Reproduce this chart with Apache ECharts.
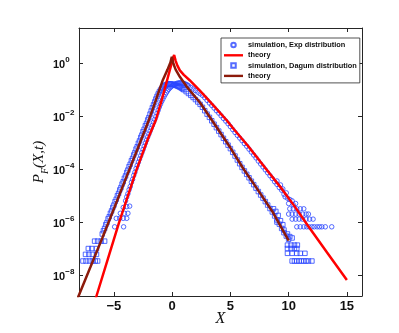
<!DOCTYPE html>
<html>
<head>
<meta charset="utf-8">
<title>P_F(X,t)</title>
<script src="https://cdn.jsdelivr.net/npm/echarts@6/dist/echarts.min.js"></script>
<style>html,body{margin:0;padding:0;background:#fff;}</style>
</head>
<body>
<div id="main" style="width:399px;height:333px;"></div>
<script>
// points are [X, log10 P]
var theoryExp = [[-7.0,-9.5],[-6.5,-8.79],[-5.5,-7.36],[-4.57,-6.03],[-3.07,-4.04],[-2.07,-2.85],[-1.4,-2.15],
  [-0.9,-1.4],[-0.43,-0.64],[-0.1,-0.1],[0.05,0.15],[0.17,0.3],[0.3,0.08],[0.45,-0.1],[0.66,-0.28],[1.0,-0.45],
  [1.5,-0.65],[2.4,-1.05],[3.5,-1.58],[4.7,-2.17],[5.3,-2.5],[6.5,-3.12],[8.1,-4.02],[9.4,-4.74],[10.5,-5.4],
  [11.6,-6.1],[13.3,-7.15],[15,-8.19]];

var theoryDagum = [[-8.3,-9.08],[-8,-8.75],[-7,-7.68],[-6,-6.6],[-5,-5.5],[-4,-4.38],[-3,-3.27],[-2,-2.15],
  [-1.4,-1.4],[-0.8,-0.64],[-0.4,-0.25],[-0.15,0.02],[-0.03,0.23],[0.1,-0.02],[0.3,-0.25],[0.66,-0.52],
  [1.24,-0.89],[2.4,-1.5],[3.4,-2.15],[5,-3.2],[6.1,-3.98],[7.3,-4.75],[8.6,-5.6],[10,-6.7]];

var simExp = [
  [-4.94,-6.18],[-4.17,-6.18],[-4.8,-5.86],[-4.5,-5.86],[-4.2,-5.86],[-3.9,-5.86],[-4.45,-5.67],[-4.1,-5.67],[-3.8,-5.67],
  [-4.2,-5.45],[-3.9,-5.42],[-3.65,-5.4],
  [-4.0,-5.2],[-3.9,-5.05],[-3.8,-4.93],[-3.7,-4.78],[-3.6,-4.66],[-3.5,-4.5],[-3.4,-4.39],[-3.3,-4.24],[-3.2,-4.12],
  [-3.1,-3.98],[-3.0,-3.86],[-2.9,-3.74],[-2.8,-3.62],[-2.7,-3.5],[-2.6,-3.38],[-2.5,-3.26],[-2.4,-3.14],[-2.3,-3.02],
  [-2.2,-2.91],[-2.1,-2.79],[-2.0,-2.68],[-1.9,-2.57],[-1.8,-2.46],[-1.7,-2.35],[-1.6,-2.24],[-1.5,-2.13],[-1.4,-2.02],
  [-1.3,-1.9],[-1.2,-1.78],[-1.1,-1.66],[-1.0,-1.55],[-0.9,-1.45],[-0.8,-1.36],[-0.7,-1.27],[-0.6,-1.19],[-0.5,-1.12],
  [-0.4,-1.05],[-0.3,-0.99],[-0.2,-0.94],[-0.1,-0.9],[0.0,-0.86],[0.1,-0.83],[0.2,-0.81],[0.3,-0.79],[0.4,-0.77],
  [0.5,-0.76],[0.6,-0.75],[0.7,-0.75],[0.8,-0.75],[0.9,-0.76],[1.0,-0.77],[1.1,-0.79],[1.2,-0.81],[1.3,-0.83],
  [1.4,-0.86],[1.6,-0.92],[1.8,-0.98],[2.0,-1.04],[2.2,-1.1],[2.4,-1.16],[2.6,-1.22],[2.8,-1.31],[3.0,-1.41],
  [3.2,-1.51],[3.4,-1.6],[3.6,-1.7],[3.8,-1.8],[4.0,-1.89],[4.2,-1.99],[4.4,-2.09],[4.6,-2.19],[4.8,-2.29],
  [5.0,-2.4],[5.2,-2.51],[5.4,-2.62],[5.6,-2.73],[5.8,-2.83],[6.0,-2.93],[6.2,-3.04],[6.4,-3.14],[6.6,-3.25],
  [6.8,-3.36],[7.0,-3.47],[7.2,-3.58],[7.4,-3.7],[7.6,-3.81],[7.8,-3.92],[8.0,-4.03],[8.2,-4.14],[8.4,-4.25],
  [8.6,-4.36],[8.8,-4.48],[9.0,-4.58],[9.2,-4.7],[9.4,-4.8],
  [9.0,-4.45],[9.3,-4.6],[9.5,-4.75],[9.6,-4.95],[9.8,-4.9],[9.7,-5.05],[9.9,-5.1],[10.1,-5.15],[10.3,-5.2],
  [10.0,-5.3],[10.4,-5.35],[10.6,-5.3],
  [10.1,-5.5],[10.4,-5.5],[10.7,-5.5],[11.0,-5.5],[11.3,-5.5],
  [10.0,-5.7],[10.3,-5.7],[10.6,-5.7],[10.9,-5.7],[11.2,-5.7],[11.5,-5.7],[11.7,-5.7],
  [10.3,-5.89],[10.6,-5.89],[10.9,-5.89],[11.2,-5.89],[11.5,-5.89],[11.8,-5.89],[12.1,-5.89],
  [10.7,-6.18],[11.0,-6.18],[11.3,-6.18],[11.55,-6.18],[11.75,-6.18],[12.0,-6.18],[12.2,-6.18],[12.45,-6.18],
  [12.65,-6.18],[12.85,-6.18],[13.15,-6.18],[13.7,-6.18]
];

var simDagum = [
  [-7.66,-7.47],[-7.4,-7.47],[-7.1,-7.47],[-6.85,-7.47],[-6.6,-7.47],[-6.4,-7.47],
  [-7.44,-7.22],[-7.15,-7.22],[-6.85,-7.22],[-6.5,-7.22],
  [-7.2,-7.0],[-6.9,-7.0],[-6.5,-7.0],
  [-6.66,-6.72],[-6.4,-6.72],[-6.1,-6.72],[-5.8,-6.72],
  [-6.0,-6.45],[-5.9,-6.33],[-5.8,-6.24],[-5.7,-6.1],[-5.6,-6.02],[-5.5,-5.88],[-5.4,-5.8],[-5.3,-5.67],[-5.2,-5.58],
  [-5.1,-5.45],[-5.0,-5.36],[-4.9,-5.23],[-4.8,-5.14],[-4.7,-5.01],[-4.6,-4.92],[-4.5,-4.79],[-4.4,-4.7],[-4.3,-4.57],
  [-4.2,-4.48],[-4.1,-4.35],[-4.0,-4.26],[-3.9,-4.13],[-3.8,-4.04],[-3.7,-3.91],[-3.6,-3.82],[-3.5,-3.69],[-3.4,-3.6],
  [-3.3,-3.47],[-3.2,-3.38],[-3.1,-3.25],[-3.0,-3.16],[-2.9,-3.03],[-2.8,-2.94],[-2.7,-2.81],[-2.6,-2.72],[-2.5,-2.59],
  [-2.4,-2.5],[-2.3,-2.37],[-2.2,-2.28],[-2.1,-2.15],[-2.0,-2.06],[-1.9,-1.93],[-1.8,-1.81],[-1.7,-1.69],[-1.6,-1.58],
  [-1.5,-1.47],[-1.4,-1.36],[-1.3,-1.26],[-1.2,-1.17],[-1.1,-1.09],[-1.0,-1.02],[-0.9,-0.96],[-0.8,-0.91],[-0.7,-0.87],
  [-0.6,-0.84],[-0.5,-0.82],[-0.4,-0.8],[-0.3,-0.79],[-0.2,-0.79],[-0.1,-0.79],[0.0,-0.8],[0.1,-0.81],[0.2,-0.82],
  [0.3,-0.84],[0.4,-0.86],[0.5,-0.88],[0.6,-0.9],[0.7,-0.92],[0.8,-0.95],[0.9,-0.98],[1.0,-1.01],[1.2,-1.08],
  [1.4,-1.15],[1.6,-1.22],[1.8,-1.3],[2.0,-1.38],[2.2,-1.47],[2.4,-1.56],[2.6,-1.67],[2.8,-1.8],[3.0,-1.93],
  [3.2,-2.05],[3.4,-2.18],[3.6,-2.31],[3.8,-2.44],[4.0,-2.57],[4.2,-2.7],[4.4,-2.84],[4.6,-2.97],[4.8,-3.1],
  [5.0,-3.23],[5.2,-3.37],[5.4,-3.51],[5.6,-3.66],[5.8,-3.8],[6.0,-3.94],[6.2,-4.07],[6.4,-4.2],[6.6,-4.33],
  [6.8,-4.46],[7.0,-4.59],[7.2,-4.72],[7.4,-4.85],[7.6,-4.98],[7.8,-5.1],[8.0,-5.23],[8.2,-5.36],[8.4,-5.49],
  [8.6,-5.62],[8.8,-5.77],[9.0,-5.92],[9.2,-6.08],[9.4,-6.24],[9.6,-6.4],[9.8,-6.53],[10.0,-6.65],
  [8.7,-5.5],[8.9,-5.6],[9.1,-5.75],[9.3,-5.95],[9.5,-6.1],[9.0,-6.0],[9.6,-6.3],[9.9,-6.45],[10.1,-6.55],[10.3,-6.6],
  [9.9,-6.87],[10.2,-6.87],[10.5,-6.87],[10.75,-6.87],
  [9.9,-7.0],[10.2,-7.0],[10.5,-7.0],[10.7,-7.0],
  [9.9,-7.18],[10.3,-7.18],[10.7,-7.18],[11.0,-7.18],[11.4,-7.18],
  [10.3,-7.47],[10.5,-7.47],[10.7,-7.47],[10.9,-7.47],[11.1,-7.47],[11.3,-7.47],[11.5,-7.47],[11.7,-7.47],[12.0,-7.47]
];

var xTicks = [-5, 0, 5, 10, 15];
var yTicks = [-8, -6, -4, -2, 0];   // exponents of the 10^n labels

var blue = '#2b46ff';
var red = '#ff0000';
var brown = '#8c1a0a';
var axisCol = '#262626';

function expLabel(v) {
  var e = v === 0 ? '0' : '\u2212' + Math.abs(v);
  return '{b|10}{e|' + e + '}';
}

var chart = echarts.init(document.getElementById('main'));

var lineIcon = 'path://M0,0H40V5H0Z';
var squareIcon = 'path://M0,0H10V10H0Z';

var option = {
  animation: false,
  backgroundColor: '#fff',
  grid: { left: 79, right: 37, top: 28, bottom: 37, outerBoundsMode: 'none' },
  legend: {
    orient: 'vertical',
    left: 221, top: 38,
    padding: [2, 3, 2, 3],
    itemWidth: 19, itemHeight: 4.5, itemGap: 0.3,
    backgroundColor: '#fff',
    borderColor: axisCol, borderWidth: 0.8, borderRadius: 0,
    textStyle: { fontFamily: 'Liberation Sans', fontWeight: 'bold', fontSize: 7.4, color: '#111', lineHeight: 10 },
    data: [
      { name: 'simulation, Exp distribution', icon: 'circle' },
      { name: 'theory', icon: lineIcon },
      { name: 'simulation, Dagum distribution', icon: squareIcon },
      { name: 'theory ', icon: lineIcon }
    ]
  },
  xAxis: [{
    type: 'value', min: -8, max: 16.3,
    name: 'X', nameLocation: 'middle', nameGap: 15, nameMoveOverlap: false,
    nameTextStyle: { fontFamily: 'Liberation Serif', fontStyle: 'italic', fontSize: 16, color: '#111' },
    axisLine: { show: true, onZero: false, lineStyle: { color: axisCol, width: 1 } },
    axisTick: { show: true, inside: true, length: 4, customValues: xTicks, lineStyle: { color: axisCol } },
    axisLabel: { customValues: xTicks, margin: 4, fontFamily: 'Liberation Sans', fontWeight: 'bold', fontSize: 13, color: '#111',
      formatter: function (v) { return v < 0 ? '\u2212' + Math.abs(v) : String(v); } },
    splitLine: { show: false }
  }, {
    type: 'value', min: -8, max: 16.3, position: 'top',
    axisLine: { show: true, onZero: false, lineStyle: { color: axisCol, width: 1 } },
    axisTick: { show: true, inside: true, length: 4, customValues: xTicks, lineStyle: { color: axisCol } },
    axisLabel: { show: false },
    splitLine: { show: false }
  }],
  yAxis: [{
    type: 'value', min: -8.79, max: 1.32,
    name: '{p|P}{s|F}{p|(X,t)}', nameLocation: 'middle', nameGap: 29, nameRotate: 90, nameMoveOverlap: false,
    nameTextStyle: {
      color: '#111', fontFamily: 'Liberation Serif', fontStyle: 'italic', fontSize: 15,
      rich: {
        p: { fontFamily: 'Liberation Serif', fontStyle: 'italic', fontSize: 15, color: '#111', verticalAlign: 'bottom', padding: [0, 0, 3, 0] },
        s: { fontFamily: 'Liberation Serif', fontStyle: 'italic', fontSize: 10, color: '#111', verticalAlign: 'bottom' }
      }
    },
    axisLine: { show: true, onZero: false, lineStyle: { color: axisCol, width: 1 } },
    axisTick: { show: true, inside: true, length: 4, customValues: yTicks, lineStyle: { color: axisCol } },
    axisLabel: {
      customValues: yTicks, margin: 26, align: 'left', formatter: expLabel,
      rich: {
        b: { fontFamily: 'Liberation Sans', fontWeight: 'bold', fontSize: 11, color: '#111', verticalAlign: 'bottom' },
        e: { fontFamily: 'Liberation Sans', fontWeight: 'bold', fontSize: 8, color: '#111', verticalAlign: 'bottom', padding: [0, 0, 7, 0] }
      }
    },
    splitLine: { show: false }
  }, {
    type: 'value', min: -8.79, max: 1.32, position: 'right',
    axisLine: { show: true, onZero: false, lineStyle: { color: axisCol, width: 1 } },
    axisTick: { show: true, inside: true, length: 4, customValues: yTicks, lineStyle: { color: axisCol } },
    axisLabel: { show: false },
    splitLine: { show: false }
  }],
  series: [{
    name: 'simulation, Exp distribution',
    type: 'scatter', data: simExp, symbol: 'circle', symbolSize: 4.5,
    itemStyle: { color: 'rgba(0,0,0,0)', borderColor: blue, borderWidth: 1 }
  }, {
    name: 'simulation, Dagum distribution',
    type: 'scatter', data: simDagum, symbol: 'rect', symbolSize: 4.5,
    itemStyle: { color: 'rgba(0,0,0,0)', borderColor: blue, borderWidth: 1 }
  }, {
    name: 'theory',
    type: 'line', data: theoryExp, showSymbol: false, symbol: 'none', clip: true,
    lineStyle: { color: red, width: 2.5 }, itemStyle: { color: red }
  }, {
    name: 'theory ',
    type: 'line', data: theoryDagum, showSymbol: false, symbol: 'none', clip: true,
    lineStyle: { color: brown, width: 2.5 }, itemStyle: { color: brown }
  }]
};

chart.setOption(option);
</script>
</body>
</html>
